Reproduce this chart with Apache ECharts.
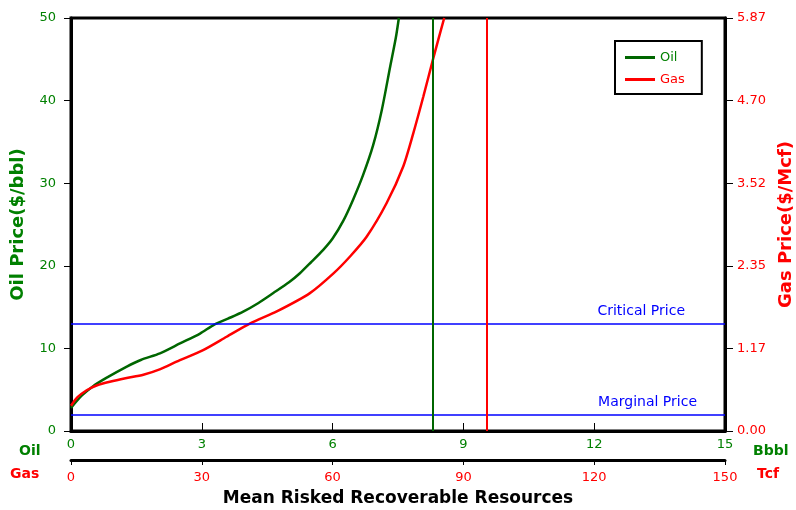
<!DOCTYPE html>
<html>
<head>
	<meta http-equiv="Content-Type" content="text/html;charset=utf-8">
	<title>Mean Risked Recoverable Resources</title>
	<style>
		html, body{ margin:0; padding:0; background:#fff; }
		#chart{ width:796px; height:510px; }
	</style>
</head>
<body>
<div id="chart"></div>
<script src="https://cdn.jsdelivr.net/npm/echarts@6/dist/echarts.min.js"></script>
<script>
	// oil curve: resources (Bbbl) vs oil price ($/bbl)
	var oilX = [0, 0.25, 0.5, 0.8, 1.28, 1.6, 2.04, 2.5, 2.96, 3.26, 3.6, 3.95, 4.3, 4.64, 5.0, 5.25, 5.5, 5.78, 6.0, 6.25, 6.47, 6.7, 6.93, 7.13, 7.32, 7.45, 7.52];
	var oilY = [2.8, 4.3, 5.4, 6.4, 7.8, 8.6, 9.4, 10.6, 11.8, 12.8, 13.6, 14.45, 15.5, 16.7, 18.0, 19.1, 20.4, 21.9, 23.3, 25.5, 28.0, 31.0, 34.6, 38.9, 44.1, 47.6, 50];

	// gas curve: resources (Tcf) vs gas price ($/Mcf)
	var gasX = [0, 1.5, 3.6, 6, 8.9, 12.5, 16.6, 20.5, 24.2, 30.3, 35.7, 41.1, 47.2, 54.8, 60.2, 64.0, 67.8, 72.4, 76.2, 78.5, 80.8, 83.1, 85.6];
	var gasY = [0.36, 0.48, 0.58, 0.65, 0.70, 0.75, 0.80, 0.88, 0.985, 1.15, 1.34, 1.53, 1.70, 1.96, 2.24, 2.48, 2.76, 3.24, 3.76, 4.23, 4.75, 5.30, 5.87];

	var gasPriceTicks = [0, 1.174, 2.348, 3.522, 4.696, 5.87];
	var criticalPrice = 13;
	var marginalPrice = 2;
	var oilMean = 8.3;
	var gasMean = 95.4;

	var GREEN = '#006600', GREEN_TXT = '#008000', RED = '#ff0000', BLUE = '#0000ff';
	var FONT = '"DejaVu Sans", Verdana, sans-serif';

	function pairs(xs, ys){
		var out = [];
		for(var i = 0; i < xs.length; i++){
			out.push([xs[i], ys[i]]);
		}
		return out;
	}

	var myChart = echarts.init(document.getElementById('chart'));

	var option = {
		backgroundColor: '#fff',
		animation: false,
		textStyle: {fontFamily: FONT},
		title: {
			text: 'Mean Risked Recoverable Resources',
			left: 'center',
			top: 490,
			padding: 0,
			textStyle: {fontSize: 17, fontWeight: 'bold', color: '#000', fontFamily: FONT}
		},
		legend: {
			orient: 'vertical',
			left: 615,
			top: 41,
			padding: [10, 17, 8, 10],
			itemGap: 9,
			itemWidth: 30,
			itemHeight: 3,
			icon: 'rect',
			borderColor: '#000',
			borderWidth: 2,
			backgroundColor: '#fff',
			data: [
				{name: 'Oil', textStyle: {color: GREEN_TXT}},
				{name: 'Gas', textStyle: {color: RED}}
			],
			textStyle: {fontSize: 13, fontFamily: FONT}
		},
		grid: {
			left: 71, right: 71, top: 18, bottom: 79,
			outerBoundsMode: 'none',
			containLabel: false,
			show: true,
			borderColor: '#000',
			borderWidth: 3
		},
		xAxis: [{
			type: 'value',
			min: 0, max: 15, interval: 3,
			position: 'bottom',
			axisLine: {show: true, onZero: false, lineStyle: {color: '#000', width: 3}},
			axisTick: {show: true, inside: true, length: 8, lineStyle: {color: '#000'}},
			axisLabel: {color: GREEN_TXT, fontSize: 13, margin: 7},
			splitLine: {show: false}
		}, {
			type: 'value',
			min: 0, max: 150, interval: 30,
			position: 'bottom',
			offset: 29,
			axisLine: {show: true, onZero: false, lineStyle: {color: '#000', width: 3}},
			axisTick: {show: true, length: 5, lineStyle: {color: '#000'}},
			axisLabel: {color: RED, fontSize: 13, margin: 11},
			splitLine: {show: false}
		}],
		yAxis: [{
			type: 'value',
			min: 0, max: 50, interval: 10,
			position: 'left',
			name: 'Oil Price($/bbl)',
			nameLocation: 'middle',
			nameRotate: 90,
			nameGap: 44,
			nameTextStyle: {color: GREEN_TXT, fontSize: 18, fontWeight: 'bold'},
			axisLine: {show: true, onZero: false, lineStyle: {color: '#000', width: 3}},
			axisTick: {show: true, length: 7, lineStyle: {color: '#000'}},
			axisLabel: {color: GREEN_TXT, fontSize: 13, margin: 15},
			splitLine: {show: false}
		}, {
			type: 'value',
			min: 0, max: 5.87,
			position: 'right',
			name: 'Gas Price($/Mcf)',
			nameLocation: 'middle',
			nameRotate: 90,
			nameGap: 52,
			nameTextStyle: {color: RED, fontSize: 18, fontWeight: 'bold'},
			axisLine: {show: true, onZero: false, lineStyle: {color: '#000', width: 3}},
			axisTick: {show: true, length: 8, customValues: gasPriceTicks, lineStyle: {color: '#000'}},
			axisLabel: {
				color: RED, fontSize: 13, margin: 12,
				customValues: gasPriceTicks,
				formatter: function(v){ return v.toFixed(2); }
			},
			splitLine: {show: false}
		}],
		graphic: [
			{type: 'text', left: 19, top: 444, style: {text: 'Oil', fill: GREEN_TXT, font: 'bold 14px ' + FONT}},
			{type: 'text', left: 10, top: 467, style: {text: 'Gas', fill: RED, font: 'bold 14px ' + FONT}},
			{type: 'text', left: 753, top: 444, style: {text: 'Bbbl', fill: GREEN_TXT, font: 'bold 14px ' + FONT}},
			{type: 'text', left: 757, top: 467, style: {text: 'Tcf', fill: RED, font: 'bold 14px ' + FONT}}
		],
		series: [{
			name: 'Oil',
			type: 'line',
			xAxisIndex: 0,
			yAxisIndex: 0,
			symbol: 'none',
			smooth: 0.25,
			color: GREEN,
			lineStyle: {width: 2.5, color: GREEN},
			data: pairs(oilX, oilY),
			markLine: {
				silent: true,
				symbol: 'none',
				animation: false,
				label: {position: 'insideEndTop', color: BLUE, fontSize: 14, fontFamily: FONT},
				data: [
					{yAxis: marginalPrice, lineStyle: {color: BLUE, width: 1.5, type: 'solid'}, label: {formatter: 'Marginal Price', padding: [0, 23, 0, 0]}},
					{yAxis: criticalPrice, lineStyle: {color: BLUE, width: 1.5, type: 'solid'}, label: {formatter: 'Critical Price', padding: [0, 35, 0, 0]}},
					{xAxis: oilMean, lineStyle: {color: GREEN, width: 2, type: 'solid'}, label: {show: false}}
				]
			}
		}, {
			name: 'Gas',
			type: 'line',
			xAxisIndex: 1,
			yAxisIndex: 1,
			symbol: 'none',
			smooth: 0.25,
			color: RED,
			lineStyle: {width: 2.5, color: RED},
			data: pairs(gasX, gasY),
			markLine: {
				silent: true,
				symbol: 'none',
				animation: false,
				data: [
					{xAxis: gasMean, lineStyle: {color: RED, width: 2, type: 'solid'}, label: {show: false}}
				]
			}
		}]
	};

	myChart.setOption(option);
</script>
</body>
</html>
